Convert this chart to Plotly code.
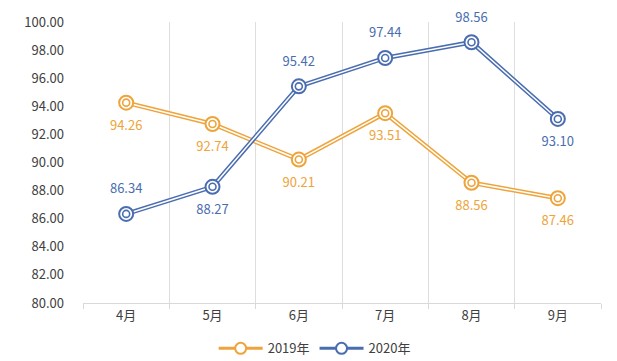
import plotly.graph_objects as go

months = ["4月", "5月", "6月", "7月", "8月", "9月"]
y2019 = [94.26, 92.74, 90.21, 93.51, 88.56, 87.46]
y2020 = [86.34, 88.27, 95.42, 97.44, 98.56, 93.10]
pos2019 = ["bottom center"] * 6
pos2020 = ["top center", "bottom center", "top center", "top center", "top center", "bottom center"]

ORANGE = "#EEA43A"
BLUE = "#4A6DB0"
FONT = "Noto Sans CJK SC"

fig = go.Figure()

def add_series(name, ys, color, positions):
    # thick colored line
    fig.add_trace(go.Scatter(x=months, y=ys, mode="lines", line=dict(color=color, width=4.5),
                             showlegend=False, hoverinfo="skip", legendgroup=name))
    # white inner line
    fig.add_trace(go.Scatter(x=months, y=ys, mode="lines", line=dict(color="white", width=1.5),
                             showlegend=False, hoverinfo="skip", legendgroup=name))
    # outer ring marker
    fig.add_trace(go.Scatter(x=months, y=ys, mode="markers", legendgroup=name,
                             marker=dict(symbol="circle", size=14, color="white",
                                         line=dict(color=color, width=2)),
                             showlegend=False, hoverinfo="skip"))
    # inner ring
    fig.add_trace(go.Scatter(x=months, y=ys, mode="markers", legendgroup=name,
                             marker=dict(symbol="circle", size=7, color="white",
                                         line=dict(color=color, width=1.6)),
                             showlegend=False, hoverinfo="skip"))
    # data labels (invisible large marker to push text further away)
    fig.add_trace(go.Scatter(x=months, y=ys, mode="markers+text", legendgroup=name,
                             marker=dict(size=26, color="rgba(0,0,0,0)"),
                             text=[f"{v:.2f}" for v in ys], textposition=positions,
                             textfont=dict(color=color, size=13, family=FONT),
                             cliponaxis=False, showlegend=False, name=name))
    # legend entry
    fig.add_trace(go.Scatter(x=[None], y=[None], mode="lines+markers", name=name,
                             legendgroup=name,
                             line=dict(color=color, width=3),
                             marker=dict(symbol="circle", size=11, color="white",
                                         line=dict(color=color, width=2))))

add_series("2019年", y2019, ORANGE, pos2019)
add_series("2020年", y2020, BLUE, pos2020)

fig.update_layout(
    width=617, height=361,
    margin=dict(l=83, r=16, t=22, b=58),
    paper_bgcolor="white", plot_bgcolor="white",
    font=dict(family=FONT, size=13, color="#404040"),
    legend=dict(orientation="h", xref="container", x=0.51, xanchor="center",
                yref="container", y=0.035, yanchor="middle",
                font=dict(size=13, color="#404040"), itemwidth=44, tracegroupgap=0),
)
fig.update_xaxes(type="category", tickson="boundaries", showgrid=True, gridcolor="#DEDEDE",
                 gridwidth=1, ticks="outside", ticklen=5, tickcolor="#D9D9D9",
                 showline=True, linecolor="#D9D9D9", linewidth=1, automargin=False,
                 tickfont=dict(size=13, color="#404040"), range=[-0.5, 5.5])
fig.update_yaxes(range=[80, 100], dtick=2, tick0=80, tickformat=".2f", showgrid=False,
                 zeroline=False, showline=False, ticks="", ticklabelstandoff=18,
                 automargin=False, tickfont=dict(size=13, color="#404040"))

fig.write_html("out.html", config={"displayModeBar": False},
               post_script="document.body.style.margin='0';")
